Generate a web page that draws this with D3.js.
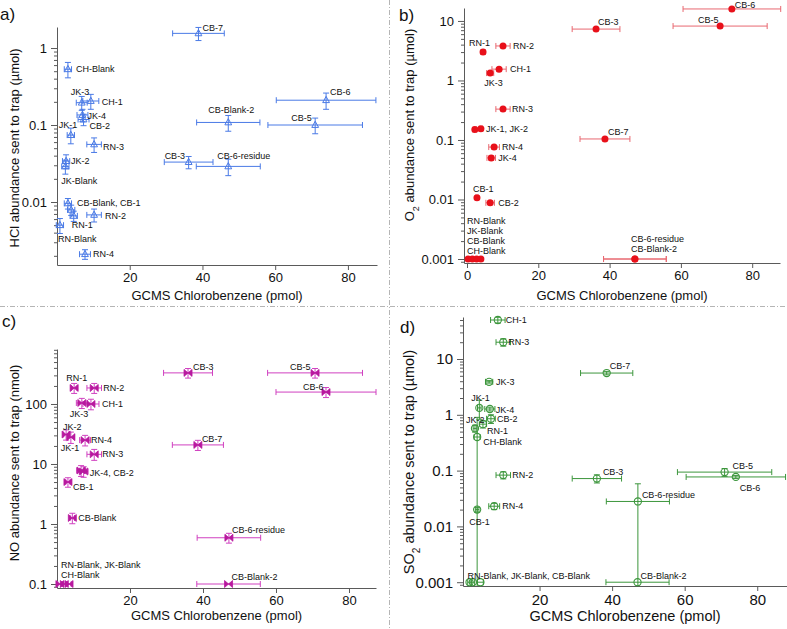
<!DOCTYPE html>
<html><head><meta charset="utf-8">
<script src="https://cdn.jsdelivr.net/npm/d3@7"></script>
<style>
body{margin:0;background:#fff}
svg{display:block}
text{font-family:"Liberation Sans",Arial,Helvetica,sans-serif}
</style>
</head><body>
<svg id="chart" width="787" height="629"></svg>
<script>
// ---------- data: a) HCl (µmol) ----------
const hclNames = ["CB-7","CH-Blank","JK-3","CH-1","JK-4","CB-2","JK-1","RN-3","JK-2","JK-Blank","CB-3","CB-6-residue","CB-Blank-2","CB-6","CB-5","CB-Blank","CB-1","RN-1","RN-2","RN-Blank","RN-4"];
const hclX    = [38.9,3.0,6.8,9.3,7.0,7.3,3.8,10.2,2.5,2.3,36.2,47.1,47.1,74.0,71.0,3.0,3.9,4.6,10.2,0.8,7.7];
const hclXErr = [7.1,1.0,1.5,2.2,1.5,1.5,1.0,2.0,1.0,1.0,6.7,8.8,8.7,13.7,13.0,1.0,1.0,1.0,2.0,1.0,1.5];
const hclY    = [1.55,0.53,0.195,0.205,0.135,0.118,0.074,0.056,0.034,0.029,0.033,0.029,0.108,0.21,0.1,0.0096,0.0079,0.0066,0.0068,0.005,0.0021];
const hclYErr = [0.3,0.12,0.04,0.045,0.025,0.02,0.017,0.012,0.007,0.006,0.006,0.007,0.025,0.05,0.023,0.0015,0.0012,0.001,0.0013,0.0011,0.0003];
const hclLabelText = ["CB-7","CH-Blank","JK-3","CH-1","JK-4","CB-2","JK-1","RN-3","JK-2","JK-Blank","CB-3","CB-6-residue","CB-Blank-2","CB-6","CB-5","CB-Blank, CB-1","RN-1","RN-2","RN-Blank","RN-4"];
const hclLabelRef  = ["CB-7","CH-Blank","JK-3","CH-1","JK-4","CB-2","JK-1","RN-3","JK-2","JK-Blank","CB-3","CB-6-residue","CB-Blank-2","CB-6","CB-5","CB-Blank","RN-1","RN-2","RN-Blank","RN-4"];

// ---------- data: b) O2 (µmol) ----------
const o2Names = ["CB-6","CB-5","CB-3","RN-2","RN-1","CH-1","JK-3","RN-3","JK-1","JK-2","RN-4","JK-4","CB-7","CB-1","CB-2","RN-Blank","JK-Blank","CB-Blank","CH-Blank","CB-6-residue","CB-Blank-2"];
const o2X    = [74.3,71.0,36.2,10.1,4.5,9.0,6.5,10.1,2.2,3.9,7.6,6.8,38.7,2.8,6.5,0.3,1.5,2.7,3.9,47.1,47.1];
const o2XErr = [13.7,13.2,6.7,2.0,0.6,2.0,1.0,2.0,0.5,0.5,1.5,1.2,7.0,0.4,1.2,0.4,0.4,0.4,0.4,8.8,8.8];
const o2Y    = [15.9,8.2,7.3,3.8,3.0,1.55,1.33,0.33,0.15,0.155,0.076,0.05,0.104,0.0107,0.0088,0.001,0.001,0.001,0.001,0.001,0.001];
const o2YErr = [0.4,0.2,0.2,0.2,0.15,0.1,0.08,0.02,0.008,0.008,0.005,0.004,0.005,0.0007,0.0006,0,0,0,0,0,0];
const o2LabelText = ["CB-6","CB-5","CB-3","RN-2","RN-1","CH-1","JK-3","RN-3","JK-1, JK-2","RN-4","JK-4","CB-7","CB-1","CB-2","RN-Blank","JK-Blank","CB-Blank","CH-Blank","CB-6-residue","CB-Blank-2"];
const o2LabelRef  = ["CB-6","CB-5","CB-3","RN-2","RN-1","CH-1","JK-3","RN-3","JK-2","RN-4","JK-4","CB-7","CB-1","CB-2","RN-Blank","RN-Blank","RN-Blank","RN-Blank","CB-6-residue","CB-6-residue"];

// ---------- data: c) NO (nmol) ----------
const noNames = ["RN-1","RN-2","JK-3","CH-1","JK-2","JK-1","RN-4","RN-3","JK-4","CB-2","CB-1","CB-Blank","CB-6-residue","CB-Blank-2","RN-Blank","JK-Blank","CH-Blank","CB-3","CB-5","CB-6","CB-7"];
const noX    = [4.7,10.2,6.8,9.3,2.5,3.8,7.7,10.2,6.6,7.3,3.0,4.2,47.1,47.0,0.8,2.0,3.3,35.9,70.7,73.7,38.6];
const noXErr = [0.8,2.0,1.5,2.2,0.8,1.0,1.5,2.0,1.2,1.2,0.6,0.6,8.7,8.7,0.6,0.6,0.6,6.7,13.0,13.7,7.0];
const noY    = [185,185,104,100,31,28,25,14.5,7.8,7.5,5.0,1.26,0.59,0.1,0.1,0.1,0.1,330,330,158,20.8];
const noYErr = [35,35,20,20,6,6,5,3,1.6,1.5,0.9,0.25,0.11,0,0,0,0,60,60,30,4];
const noLabelText = ["RN-1","RN-2","JK-3","CH-1","JK-2","JK-1","RN-4","RN-3","JK-4, CB-2","CB-1","CB-Blank","CB-6-residue","CB-Blank-2","RN-Blank, JK-Blank","CH-Blank","CB-3","CB-5","CB-6","CB-7"];
const noLabelRef  = ["RN-1","RN-2","JK-3","CH-1","JK-2","JK-1","RN-4","RN-3","CB-2","CB-1","CB-Blank","CB-6-residue","CB-Blank-2","RN-Blank","RN-Blank","CB-3","CB-5","CB-6","CB-7"];

// ---------- data: d) SO2 (µmol) ----------
const so2Names = ["CH-1","RN-3","CB-7","JK-3","JK-1","JK-4","CB-2","RN-1","JK-2","CH-Blank","RN-2","RN-4","CB-1","CB-3","CB-6-residue","CB-Blank-2","CB-5","CB-6","RN-Blank","JK-Blank","CB-Blank"];
const so2X    = [8.5,10.0,38.5,6.1,3.4,6.3,6.6,4.4,2.2,2.8,10.0,7.5,2.8,35.8,47.1,47.0,71.0,74.1,0.7,1.6,3.7];
const so2XErr = [2.0,2.0,7.2,1.0,0.5,1.4,1.2,1.0,0.5,0.8,2.0,1.5,0.5,6.8,8.7,8.7,13.0,13.7,0.5,0.5,0.8];
const so2Y    = [50,20,5.6,3.9,1.33,1.27,0.85,0.68,0.57,0.4,0.083,0.023,0.02,0.072,0.028,0.001,0.094,0.077,0.001,0.001,0.001];
const so2YErr = [6,3,0.4,0.2,0.5,0.1,0.15,0.1,0.08,0.5,0.012,0.003,0.002,0.012,0.03,0,0.015,0.005,0,0,0];
const so2LabelText = ["CH-1","RN-3","CB-7","JK-3","JK-1","JK-4","CB-2","JK-2","RN-1","CH-Blank","RN-2","RN-4","CB-1","CB-3","CB-6-residue","CB-Blank-2","CB-5","CB-6","RN-Blank, JK-Blank, CB-Blank"];
const so2LabelRef  = ["CH-1","RN-3","CB-7","JK-3","JK-1","JK-4","CB-2","JK-2","RN-1","CH-Blank","RN-2","RN-4","CB-1","CB-3","CB-6-residue","CB-Blank-2","CB-5","CB-6","RN-Blank"];

// ---------- ticks ----------
const xTicksA = [20,40,60,80];
const xTicksB = [0,20,40,60,80];
const xTicksC = [20,40,60,80];
const xTicksD = [20,40,60,80];
const yTicksA = [0.01,0.1,1];
const yTickLabelsA = ["0.01","0.1","1"];
const yTicksB = [0.001,0.01,0.1,1,10];
const yTickLabelsB = ["0.001","0.01","0.1","1","10"];
const yTicksC = [0.1,1,10,100];
const yTickLabelsC = ["0.1","1","10","100"];
const yTicksD = [0.001,0.01,0.1,1,10];
const yTickLabelsD = ["0.001","0.01","0.1","1","10"];

// ---------- label placement (pixel offsets from anchor point) ----------
const hclLabelOffset = [[4,-6],[8,0],[-11,-11],[11,1],[5,1],[6,6],[-12,-10],[9,2],[5,0],[-4,14],[-24,-6],[-11,-11],[-20,-13],[4,-8],[-24,-7],[9,-1],[-2,9],[11,1],[-2,14],[8,0]];
const o2LabelOffset  = [[3,-4.5],[-22,-6],[2,-7],[10,0],[-14,-9],[11,0],[-6,10],[9,0],[5,0],[8,0],[7,0],[3,-7],[-4,-9],[8,0],[-1,-38],[-1,-28],[-1,-18],[-1,-8],[-4,-20],[-4,-10]];
const noLabelOffset  = [[-8,-10],[9,0],[-12,11],[11,0],[-3,-8],[-10,11],[6,0],[8,0],[6,1],[5,5],[6,0],[3,-8],[3,-7],[1,-19],[1,-9],[5,-6],[-25,-6],[-23,-5],[4,-6]];
const so2LabelOffset = [[8,0],[5,0],[3,-7],[7,0],[-8,-10],[6,1],[6,0],[-9,-9],[4,7],[6,5],[9,0],[8,0],[-8,12],[6,-7],[4,-7],[3,-6],[8,-6],[4,11],[-2,-6]];

const svg = d3.select("#chart");
const FONT = '"Liberation Sans",Arial,Helvetica,sans-serif';

// separators
svg.append("line").attr("x1",389.5).attr("x2",389.5).attr("y1",0).attr("y2",629)
  .attr("stroke","#b5b5b5").attr("stroke-dasharray","5,2,1,2");
svg.append("line").attr("x1",0).attr("x2",787).attr("y1",306.5).attr("y2",306.5)
  .attr("stroke","#b5b5b5").attr("stroke-dasharray","5,2,1,2");

function zip(names, xs, xe, ys, ye){
  return names.map((n,i)=>({name:n,x:xs[i],xe:xe[i],y:ys[i],ye:ye[i]}));
}

function drawPanel(p){
  const g = svg.append("g");
  const x = d3.scaleLinear().domain(p.xDomain).range([p.left,p.right]);
  const y = d3.scaleLog().domain(p.yDomain).range([p.bottom,p.top]);
  const axisColor = "#5a5a5a";

  const xa = g.append("g").attr("transform",`translate(0,${p.bottom})`)
    .call(d3.axisBottom(x).tickValues(p.xTicks).tickFormat(d3.format("d")).tickSize(5).tickSizeOuter(0).tickPadding(3));
  const ya = g.append("g").attr("transform",`translate(${p.left},0)`)
    .call(d3.axisLeft(y).tickValues(p.yTicks).tickFormat((d,i)=>p.yTickLabels[i]).tickSize(6).tickSizeOuter(0).tickPadding(4));
  const minor = [];
  const lo = Math.floor(Math.log10(p.yDomain[0])), hi = Math.ceil(Math.log10(p.yDomain[1]));
  for(let e=lo;e<hi;e++){ for(let k=2;k<=9;k++){ const v=k*Math.pow(10,e); if(v>=p.yDomain[0]&&v<=p.yDomain[1]) minor.push(v);} }
  g.append("g").attr("transform",`translate(${p.left},0)`)
    .call(d3.axisLeft(y).tickValues(minor).tickFormat("").tickSize(3).tickSizeOuter(0))
    .select(".domain").remove();
  g.selectAll(".domain, .tick line").attr("stroke",axisColor);
  [xa,ya].forEach(a=>a.selectAll("text").attr("fill","#111").style("font-size",p.tickFont+"px").style("font-family",FONT));

  g.append("text").attr("x",(p.left+p.right)/2).attr("y",p.xTitleY).attr("text-anchor","middle")
    .style("font-size",p.titleFont+"px").attr("fill","#111").text("GCMS Chlorobenzene (pmol)");
  const yt = g.append("text").attr("transform",`translate(${p.yTitleX},${p.yTitleY}) rotate(-90)`)
    .attr("text-anchor","middle").style("font-size",p.titleFont+"px").attr("fill","#111");
  p.yTitle.forEach(part=>{
    const t = yt.append("tspan").text(part.t);
    if(part.sub) t.attr("baseline-shift","sub").style("font-size",(p.titleFont*0.7)+"px");
  });
  g.append("text").attr("x",p.letterX).attr("y",p.letterY).style("font-size","17px").attr("fill","#111").text(p.letter);

  const cap = 3;
  const eb = g.append("g").attr("stroke",p.barColor).attr("stroke-width",1).attr("fill","none");
  p.data.forEach(d=>{
    const cx = x(d.x), cy = y(d.y);
    if(d.xe>0){
      const x0=x(d.x-d.xe), x1=x(d.x+d.xe);
      eb.append("line").attr("x1",x0).attr("x2",x1).attr("y1",cy).attr("y2",cy);
      eb.append("line").attr("x1",x0).attr("x2",x0).attr("y1",cy-cap).attr("y2",cy+cap);
      eb.append("line").attr("x1",x1).attr("x2",x1).attr("y1",cy-cap).attr("y2",cy+cap);
    }
    if(d.ye>0){
      const lowV = d.y-d.ye;
      const clipped = lowV<=p.yDomain[0];
      const y0 = clipped? p.bottom : y(lowV), y1 = y(d.y+d.ye);
      eb.append("line").attr("x1",cx).attr("x2",cx).attr("y1",y0).attr("y2",y1);
      eb.append("line").attr("x1",cx-cap).attr("x2",cx+cap).attr("y1",y1).attr("y2",y1);
      if(!clipped) eb.append("line").attr("x1",cx-cap).attr("x2",cx+cap).attr("y1",y0).attr("y2",y0);
    }
  });

  const mk = g.append("g");
  p.data.forEach(d=>{
    const cx = x(d.x), cy = y(d.y);
    if(p.marker==="triangle"){
      mk.append("path").attr("d","M0,-3.8L3.4,2.4L-3.4,2.4Z").attr("transform",`translate(${cx},${cy})`)
        .attr("fill","none").attr("stroke",p.color).attr("stroke-width",1);
    } else if(p.marker==="dot"){
      mk.append("circle").attr("cx",cx).attr("cy",cy).attr("r",3.5).attr("fill",p.color);
    } else if(p.marker==="bowtie"){
      mk.append("path").attr("d","M-4,-3.5L0,0L-4,3.5Z M4,-3.5L0,0L4,3.5Z").attr("transform",`translate(${cx},${cy})`)
        .attr("fill",p.color).attr("stroke",p.color).attr("stroke-width",0.8);
    } else if(p.marker==="ring"){
      mk.append("circle").attr("cx",cx).attr("cy",cy).attr("r",3.6).attr("fill","none").attr("stroke",p.color).attr("stroke-width",1.1);
    }
  });

  const byName = {}; p.data.forEach(d=>byName[d.name]=d);
  p.labelText.forEach((t,i)=>{
    const d = byName[p.labelRef[i]], o = p.labelOffset[i];
    g.append("text").attr("x",x(d.x)+o[0]).attr("y",y(d.y)+o[1]).attr("dy","0.35em")
      .style("font-size",p.labelFont+"px").attr("fill","#111").text(t);
  });
}

drawPanel({
  letter:"a)", letterX:0, letterY:20,
  left:57, right:377, top:27, bottom:265,
  xDomain:[0,88], yDomain:[0.00152,1.875],
  xTicks:xTicksA, yTicks:yTicksA, yTickLabels:yTickLabelsA,
  xTitleY:300, yTitleX:19, yTitleY:148,
  yTitle:[{t:"HCl abundance sent to trap (µmol)"}],
  tickFont:13, titleFont:13, labelFont:9,
  marker:"triangle", color:"#4a7ae6", barColor:"#4a7ae6",
  data:zip(hclNames,hclX,hclXErr,hclY,hclYErr),
  labelText:hclLabelText, labelRef:hclLabelRef, labelOffset:hclLabelOffset
});
drawPanel({
  letter:"b)", letterX:399, letterY:21,
  left:464, right:780, top:8, bottom:263,
  xDomain:[-0.84,87.8], yDomain:[0.000857,16.5],
  xTicks:xTicksB, yTicks:yTicksB, yTickLabels:yTickLabelsB,
  xTitleY:300, yTitleX:414, yTitleY:125,
  yTitle:[{t:"O"},{t:"2",sub:true},{t:" abundance sent to trap (µmol)"}],
  tickFont:13, titleFont:13, labelFont:9,
  marker:"dot", color:"#e8101a", barColor:"#e86870",
  data:zip(o2Names,o2X,o2XErr,o2Y,o2YErr),
  labelText:o2LabelText, labelRef:o2LabelRef, labelOffset:o2LabelOffset
});
drawPanel({
  letter:"c)", letterX:2, letterY:327,
  left:57, right:376, top:349, bottom:588,
  xDomain:[0,87.4], yDomain:[0.0858,825],
  xTicks:xTicksC, yTicks:yTicksC, yTickLabels:yTickLabelsC,
  xTitleY:620, yTitleX:19, yTitleY:463,
  yTitle:[{t:"NO abundance sent to trap (nmol)"}],
  tickFont:13, titleFont:13, labelFont:9,
  marker:"bowtie", color:"#b8189e", barColor:"#d040c0",
  data:zip(noNames,noX,noXErr,noY,noYErr),
  labelText:noLabelText, labelRef:noLabelRef, labelOffset:noLabelOffset
});
drawPanel({
  letter:"d)", letterX:400, letterY:333,
  left:463, right:787, top:317, bottom:586,
  xDomain:[-1.1,88.2], yDomain:[0.000855,56.6],
  xTicks:xTicksD, yTicks:yTicksD, yTickLabels:yTickLabelsD,
  xTitleY:621, yTitleX:414, yTitleY:462,
  yTitle:[{t:"SO"},{t:"2",sub:true},{t:" abundance sent to trap (µmol)"}],
  tickFont:15, titleFont:14.5, labelFont:9,
  marker:"ring", color:"#3c963c", barColor:"#3c963c",
  data:zip(so2Names,so2X,so2XErr,so2Y,so2YErr),
  labelText:so2LabelText, labelRef:so2LabelRef, labelOffset:so2LabelOffset
});
</script>
</body></html>
